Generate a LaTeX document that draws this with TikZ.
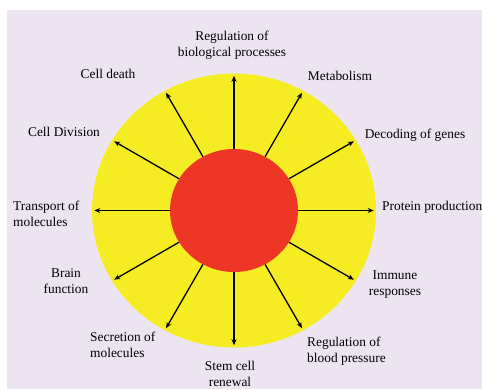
\documentclass[tikz,border=0pt]{standalone}
\usepackage{fontspec}
\setmainfont{Liberation Serif}
\usepackage{xcolor}
\usetikzlibrary{positioning,arrows.meta,shapes.geometric}

\definecolor{bgLavender}{RGB}{236,228,241}
\definecolor{ringYellow}{RGB}{246,236,36}
\definecolor{coreRed}{RGB}{238,54,38}

\begin{document}
\begin{tikzpicture}[
    x=1pt, y=1pt,
    font=\fontsize{13.4}{16}\selectfont,
    ring_shape/.style={ellipse, inner sep=0pt, fill=ringYellow},
    core_shape/.style={ellipse, inner sep=0pt, fill=coreRed},
    label_box/.style={inner sep=0pt, align=center, text=black},
    arrow/.style={-{Stealth[length=6pt,width=5pt]}, line width=1.3pt, draw=black, shorten >=2.5pt}
]

% page and background
\useasboundingbox (-234,-178.5) rectangle (248,210.5);
\fill[white] (-234,-178.5) rectangle (248,210.5);
\fill[bgLavender] (-227,-178.5) rectangle (248,200.5);

% rings
\node (ring) [ring_shape, minimum width=284pt, minimum height=274pt] at (0,0) {};
\node (core) [core_shape, minimum width=128pt, minimum height=123pt] at (0,0) {};

% labels
\node (regbio)   [label_box] at (-2,165.5)  {Regulation of\\biological processes};
\node (metab)    [label_box] at (106,134.5) {Metabolism};
\node (decode)   [label_box] at (181,75.5)  {Decoding of genes};
\node (protein)  [label_box, anchor=west] at (148,3.5) {Protein production};
\node (immune)   [label_box] at (161,-74.5) {Immune\\responses};
\node (bloodp)   [label_box, anchor=west, align=left] at (73,-140.5) {Regulation of\\blood pressure};
\node (stemcell) [label_box] at (-4,-163.5) {Stem cell\\renewal};
\node (secret)   [label_box, anchor=west, align=left] at (-144,-134.5) {Secretion of\\molecules};
\node (brain)    [label_box] at (-168,-70.5) {Brain\\function};
\node (transp)   [label_box, anchor=west, align=left] at (-221,-3.5) {Transport of\\molecules};
\node (celldiv)  [label_box] at (-170,78.5) {Cell Division};
\node (death)    [label_box] at (-126,136.5) {Cell death};

% arrows from core to ring
\foreach \ang in {0,30,...,330}
    \draw [arrow] (core.\ang) -- (ring.\ang);

\end{tikzpicture}
\end{document}
